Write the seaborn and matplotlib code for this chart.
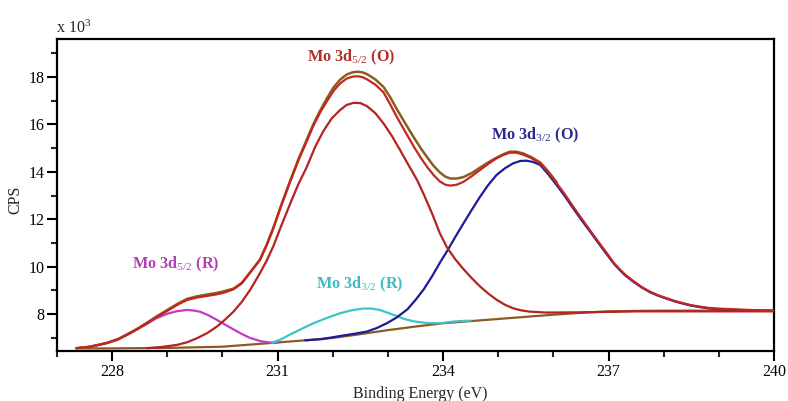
import matplotlib
matplotlib.use("Agg")
import matplotlib.pyplot as plt
import seaborn as sns
from matplotlib.ticker import MultipleLocator

# ---------------- data (x in eV, y in CPS x 10^3) ----------------
x_bg = [227.35, 228.0, 229.0, 230.0, 230.5, 231.0, 231.5, 232.0, 232.5, 233.0,
        233.5, 234.0, 234.5, 235.0, 235.5, 236.0, 236.5, 237.0, 237.5, 238.0, 239.0, 240.0]
y_bg = [6.56, 6.56, 6.58, 6.63, 6.72, 6.81, 6.90, 7.00, 7.16, 7.33,
        7.48, 7.62, 7.71, 7.80, 7.89, 7.98, 8.06, 8.12, 8.14, 8.15, 8.15, 8.15]

x_env = [227.35, 227.6, 227.9, 228.1, 228.27, 228.45, 228.63, 228.8, 229.0, 229.2,
         229.36, 229.55, 229.72, 229.9, 230.03, 230.2, 230.35, 230.5, 230.68, 230.8,
         230.92, 231.07, 231.23, 231.38, 231.53, 231.65, 231.77, 231.9, 232.01, 232.13,
         232.25, 232.35, 232.44, 232.53, 232.62, 232.77, 232.92, 233.04, 233.16, 233.3,
         233.47, 233.6, 233.71, 233.83, 233.94, 234.04, 234.13, 234.25, 234.37, 234.52,
         234.67, 234.82, 234.97, 235.1, 235.21, 235.33, 235.45, 235.6, 235.76, 235.9,
         236.06, 236.2, 236.36, 236.5, 236.66, 236.8, 236.97, 237.1, 237.2, 237.3,
         237.45, 237.6, 237.75, 237.9, 238.06, 238.2, 238.36, 238.5, 238.66, 238.8,
         238.97, 239.27, 239.57, 240.0]
y_env = [6.57, 6.63, 6.78, 6.93, 7.13, 7.36, 7.62, 7.87, 8.14, 8.42,
         8.60, 8.71, 8.77, 8.84, 8.91, 9.05, 9.30, 9.75, 10.29, 10.90,
         11.60, 12.60, 13.60, 14.50, 15.30, 15.95, 16.50, 17.00, 17.40, 17.72,
         17.93, 18.01, 18.03, 18.00, 17.90, 17.68, 17.35, 16.85, 16.32, 15.75,
         15.06, 14.58, 14.21, 13.86, 13.60, 13.46, 13.42, 13.46, 13.58, 13.82,
         14.08, 14.34, 14.57, 14.72, 14.81, 14.81, 14.73, 14.58, 14.36, 14.00,
         13.52, 13.08, 12.53, 12.07, 11.55, 11.10, 10.57, 10.15, 9.90, 9.67,
         9.40, 9.15, 8.95, 8.80, 8.67, 8.56, 8.46, 8.38, 8.32, 8.27,
         8.24, 8.21, 8.18, 8.15]

x_raw = [227.35, 227.6, 227.9, 228.1, 228.27, 228.45, 228.63, 228.8, 229.0, 229.2,
         229.36, 229.55, 229.72, 229.9, 230.03, 230.2, 230.35, 230.5, 230.68, 230.8,
         230.92, 231.07, 231.23, 231.38, 231.53, 231.65, 231.77, 231.9, 232.01, 232.13,
         232.25, 232.35, 232.44, 232.53, 232.62, 232.77, 232.92, 233.04, 233.16, 233.3,
         233.47, 233.6, 233.71, 233.83, 233.94, 234.04, 234.13, 234.25, 234.37, 234.52,
         234.67, 234.82, 234.97, 235.1, 235.21, 235.33, 235.45, 235.6, 235.76, 235.9,
         236.06]
y_raw = [6.57, 6.63, 6.79, 6.95, 7.15, 7.38, 7.64, 7.90, 8.18, 8.46,
         8.65, 8.76, 8.83, 8.90, 8.97, 9.08, 9.32, 9.76, 10.30, 10.92,
         11.63, 12.63, 13.64, 14.55, 15.37, 16.02, 16.58, 17.12, 17.55, 17.88,
         18.10, 18.19, 18.22, 18.20, 18.12, 17.90, 17.58, 17.15, 16.65, 16.10,
         15.45, 14.98, 14.62, 14.25, 13.98, 13.80, 13.72, 13.72, 13.78, 13.95,
         14.18, 14.40, 14.60, 14.75, 14.85, 14.85, 14.78, 14.62, 14.40, 14.04,
         13.56]

# Mo 3d5/2 (O)
x_o52 = [228.63, 228.9, 229.18, 229.36, 229.54, 229.72, 229.9, 230.05, 230.2, 230.35,
         230.5, 230.68, 230.8, 230.92, 231.07, 231.23, 231.38, 231.53, 231.68, 231.83,
         231.98, 232.13, 232.25, 232.38, 232.5, 232.62, 232.77, 232.92, 233.07, 233.22,
         233.37, 233.53, 233.65, 233.8, 233.94, 234.07, 234.22, 234.37, 234.52, 234.67,
         234.82, 234.97, 235.12, 235.27, 235.42, 235.57, 235.88, 236.5, 237.5, 240.0]
y_o52 = [6.57, 6.62, 6.71, 6.82, 6.99, 7.20, 7.48, 7.78, 8.11, 8.52,
         9.02, 9.73, 10.25, 10.85, 11.75, 12.67, 13.50, 14.21, 15.05, 15.72,
         16.25, 16.60, 16.82, 16.91, 16.90, 16.77, 16.48, 16.04, 15.52, 14.92,
         14.30, 13.65, 13.05, 12.25, 11.42, 10.82, 10.32, 9.90, 9.52, 9.17,
         8.87, 8.61, 8.40, 8.25, 8.16, 8.11, 8.07, 8.08, 8.12, 8.12]

# Mo 3d3/2 (O)
x_o32 = [231.5, 231.8, 232.13, 232.4, 232.62, 232.8, 232.98, 233.15, 233.35, 233.5,
         233.65, 233.8, 233.95, 234.07, 234.22, 234.37, 234.52, 234.67, 234.82, 234.97,
         235.12, 235.27, 235.4, 235.51, 235.63, 235.76, 235.9, 236.06, 236.2, 236.36,
         236.5, 236.66, 236.8, 236.97, 237.1, 237.2, 237.3, 237.45, 237.6, 237.75,
         237.9, 238.06, 238.2, 238.36, 238.5, 238.66, 238.8, 238.97, 239.27, 239.6, 240.0]
y_o32 = [6.90, 6.95, 7.08, 7.18, 7.27, 7.42, 7.62, 7.85, 8.20, 8.60,
         9.05, 9.60, 10.20, 10.65, 11.25, 11.83, 12.40, 12.95, 13.45, 13.87,
         14.15, 14.36, 14.46, 14.47, 14.42, 14.29, 13.92, 13.44, 13.00, 12.46,
         12.00, 11.50, 11.05, 10.52, 10.12, 9.87, 9.64, 9.37, 9.13, 8.93,
         8.78, 8.65, 8.54, 8.44, 8.36, 8.30, 8.25, 8.22, 8.18, 8.16, 8.15]

# Mo 3d5/2 (R)
x_r52 = [227.36, 227.6, 227.9, 228.1, 228.27, 228.45, 228.63, 228.8, 229.0, 229.18,
         229.36, 229.5, 229.6, 229.75, 229.9, 230.05, 230.2, 230.35, 230.5, 230.7,
         230.85, 231.0]
y_r52 = [6.57, 6.63, 6.78, 6.93, 7.13, 7.36, 7.59, 7.83, 8.02, 8.13,
         8.18, 8.15, 8.10, 7.95, 7.76, 7.56, 7.36, 7.17, 7.00, 6.86,
         6.81, 6.80]

# Mo 3d3/2 (R)
x_r32 = [230.9, 231.07, 231.23, 231.45, 231.65, 231.9, 232.13, 232.35, 232.56, 232.7,
         232.85, 233.0, 233.15, 233.3, 233.47, 233.7, 233.95, 234.15, 234.3, 234.5]
y_r32 = [6.80, 6.95, 7.15, 7.40, 7.62, 7.85, 8.04, 8.17, 8.24, 8.24,
         8.18, 8.06, 7.93, 7.80, 7.70, 7.63, 7.62, 7.68, 7.71, 7.73]

labels = ["Mo 3d$_{5/2}$ (O)", "Mo 3d$_{3/2}$ (O)", "Mo 3d$_{5/2}$ (R)", "Mo 3d$_{3/2}$ (R)"]
x_ticks = [228, 231, 234, 237, 240]
y_ticks = [8, 10, 12, 14, 16, 18]

# ---------------- style ----------------
sns.set_style("white")
plt.rcParams["font.family"] = ["Liberation Serif", "DejaVu Serif"]
plt.rcParams["mathtext.fontset"] = "custom"
plt.rcParams["mathtext.rm"] = "Liberation Serif"
plt.rcParams["mathtext.it"] = "Liberation Serif:italic"
plt.rcParams["mathtext.bf"] = "Liberation Serif:bold"

fig = plt.figure(figsize=(7.88, 4.01), dpi=100)
ax = fig.add_axes([57 / 788, 50 / 401, 717 / 788, 312 / 401])

c_red = "#c4261f"
c_red2 = "#b42222"
c_raw = "#86601e"
c_bg = "#8b5a22"
c_mag = "#c23cc2"
c_cyan = "#3cc4c8"
c_blue = "#1c1c96"
lw = 1.6


def draw(x, y, color, lw=lw, z=2):
    sns.lineplot(x=x, y=y, ax=ax, color=color, linewidth=lw, zorder=z,
                 estimator=None, sort=False)
    ax.lines[-1].set_solid_joinstyle("round")


draw(x_bg, y_bg, c_bg, z=2)
draw(x_r52, y_r52, c_mag, z=3)
draw(x_r32, y_r32, c_cyan, z=3)
draw(x_o32, y_o32, c_blue, z=3)
draw(x_o52, y_o52, c_red2, z=4)
draw(x_raw, y_raw, c_raw, lw=1.8, z=5)
draw(x_env, y_env, c_red, z=6)

ax.set_xlim(227, 240)
ax.set_ylim(6.45, 19.6)
ax.set_xticks(x_ticks)
ax.set_yticks(y_ticks)
ax.xaxis.set_minor_locator(MultipleLocator(1))
ax.yaxis.set_minor_locator(MultipleLocator(1))
ax.tick_params(which="major", direction="out", length=7, width=1.5, labelsize=11.5,
               bottom=True, left=True, top=False, right=False, pad=2, colors="black")
ax.tick_params(which="minor", direction="out", length=4.5, width=1.5,
               bottom=True, left=True, top=False, right=False)
for s in ax.spines.values():
    s.set_linewidth(1.6)
    s.set_color("black")
    s.set_visible(True)
ax.set_xlabel("")
ax.set_ylabel("")

fig.text(15 / 788, 1 - 200 / 401, "CPS", rotation=90, ha="center", va="center", fontsize=11.5)
fig.text(420 / 788, 1 - 394 / 401, "Binding Energy (eV)", ha="center", va="center", fontsize=11.5)
fig.text(56 / 788, 1 - 37 / 401, "x 10$^3$", ha="left", va="bottom", fontsize=11.5)

kw = dict(transform=ax.transAxes, ha="center", va="center", fontsize=11.7, fontweight="bold")
ax.text(0.411, 0.942, labels[0], color="#b03028", **kw)
ax.text(0.667, 0.692, labels[1], color="#2a2a8e", **kw)
ax.text(0.165, 0.276, labels[2], color="#b040b4", **kw)
ax.text(0.423, 0.215, labels[3], color="#3cbcc0", **kw)

fig.savefig("out.png", dpi=100)
